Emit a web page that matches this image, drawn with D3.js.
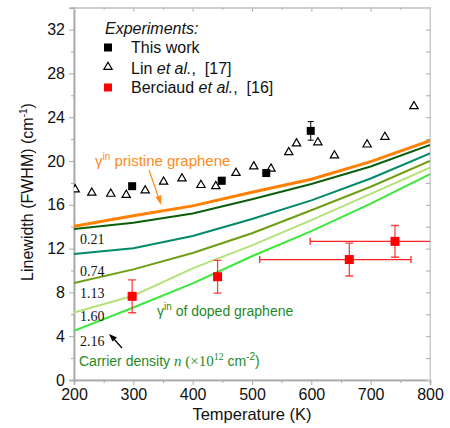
<!DOCTYPE html>
<html><head><meta charset="utf-8">
<script src="https://cdn.jsdelivr.net/npm/d3@7"></script>
<style>body{margin:0;background:#fff}svg{display:block}text{font-family:"Liberation Sans",Arial,sans-serif}</style>
</head><body>
<svg id="c" width="450" height="428"></svg>
<script>
const temps = [200,300,400,500,600,700,800];
const pristine = [14.04,15.0,15.9,17.14,18.33,19.94,21.85];
const n021 = [13.8,14.37,15.2,16.5,17.9,19.5,21.46];
const n074 = [11.5,12.03,13.15,14.7,16.4,18.4,20.7];
const n113 = [8.86,10.1,11.6,13.4,15.5,17.65,20.0];
const n160 = [6.15,7.7,10.2,12.3,14.6,17.0,19.4];
const n216 = [4.5,6.62,8.83,11.3,13.6,16.1,18.8];
const densityLabels = ["0.21","0.74","1.13","1.60","2.16"];
const thisWorkT = [298,449,524,599];
const thisWorkY = [17.7,18.2,18.9,22.75];
const thisWorkErr = [0,0.3,0,0.85];
const linT = [202,230,262,288,320,351,382,414,439,473,503,532,562,575,611,639,694,724,773];
const linY = [17.4,17.1,17.0,16.9,17.3,18.1,18.4,17.8,17.7,18.9,19.5,19.3,20.8,21.6,21.7,20.5,21.5,22.2,25.0];
const berT = [298,442,664,741];
const berY = [7.64,9.43,11.0,12.66];
const berYErr = [1.5,1.5,1.5,1.45];
const berTLow = [298,442,513,598];
const berTHigh = [298,442,768,884];
const xTicks = [200,300,400,500,600,700,800];
const yTicks = [0,4,8,12,16,20,24,28,32];

const svg = d3.select("#c");
const L=74, R=430, T=7.7, B=380;
const x = d3.scaleLinear().domain([200,800]).range([L,R]);
const y = d3.scaleLinear().domain([0,34]).range([B,T]);
const gray="#aaa";

svg.append("defs").append("clipPath").attr("id","clip").append("rect")
  .attr("x",L).attr("y",T).attr("width",R-L).attr("height",B-T);

svg.append("rect").attr("x",L).attr("y",T).attr("width",R-L).attr("height",B-T)
  .attr("fill","none").attr("stroke","#ccc").attr("stroke-width",1);

const axB = svg.append("g").attr("transform",`translate(0,${B})`)
  .call(d3.axisBottom(x).tickValues(xTicks).tickSize(5).tickPadding(4));
const axBm = svg.append("g").attr("transform",`translate(0,${B})`)
  .call(d3.axisBottom(x).tickValues(d3.range(250,800,100)).tickSize(3).tickFormat(""));
const axL = svg.append("g").attr("transform",`translate(${L},0)`)
  .call(d3.axisLeft(y).tickValues(yTicks).tickSize(5).tickPadding(4));
const axLm = svg.append("g").attr("transform",`translate(${L},0)`)
  .call(d3.axisLeft(y).tickValues(d3.range(2,34,4)).tickSize(3).tickFormat(""));
const axT = svg.append("g").attr("transform",`translate(0,${T})`)
  .call(d3.axisTop(x).tickValues(xTicks).tickSize(-4).tickFormat(""));
const axTm = svg.append("g").attr("transform",`translate(0,${T})`)
  .call(d3.axisTop(x).tickValues(d3.range(250,800,100)).tickSize(-2).tickFormat(""));
const axR = svg.append("g").attr("transform",`translate(${R},0)`)
  .call(d3.axisRight(y).tickValues(d3.range(2,34,2)).tickSize(-4).tickFormat(""));
[axB,axBm,axL,axLm,axT,axTm,axR].forEach(g=>{
  g.selectAll("path").attr("stroke",gray).attr("stroke-width",1.5);
  g.selectAll("line").attr("stroke",gray);
  g.selectAll("text").attr("fill","#111").style("font-size","16px").style("font-family","Liberation Sans,Arial,sans-serif");
});
[axT,axTm,axR].forEach(g=>g.select("path").attr("stroke","#ccc").attr("stroke-width",1));

svg.append("text").attr("x",252).attr("y",420).attr("text-anchor","middle")
  .style("font-size","16.5px").attr("fill","#111").text("Temperature (K)");
const yl = svg.append("text").attr("transform","translate(33,192) rotate(-90)")
  .attr("text-anchor","middle").style("font-size","16px").attr("fill","#111");
yl.append("tspan").text("Linewidth (FWHM) (cm");
yl.append("tspan").attr("dy",-6).style("font-size","10px").text("-1");
yl.append("tspan").attr("dy",6).text(")");

const plot = svg.append("g").attr("clip-path","url(#clip)");
const series = [
  {v:n216,c:"#3ae83a",w:2},
  {v:n160,c:"#b4e27a",w:2},
  {v:n113,c:"#6e9e12",w:2},
  {v:n074,c:"#008a6a",w:2},
  {v:n021,c:"#0b5e0b",w:2},
  {v:pristine,c:"#ff8000",w:3}
];
const line = d3.line().x((d,i)=>x(temps[i])).y(d=>y(d));
series.forEach(s=>plot.append("path").attr("d",line(s.v)).attr("fill","none")
  .attr("stroke",s.c).attr("stroke-width",s.w));

const tri = d3.symbol().type(d3.symbolTriangle).size(30);
plot.selectAll(".tri").data(linT).enter().append("path")
  .attr("d",tri).attr("transform",(d,i)=>`translate(${x(d)},${y(linY[i])})`)
  .attr("fill","#fff").attr("stroke","#000").attr("stroke-width",1.2);

thisWorkT.forEach((t,i)=>{
  if(thisWorkErr[i]>0){
    const e=thisWorkErr[i];
    plot.append("line").attr("x1",x(t)).attr("x2",x(t)).attr("y1",y(thisWorkY[i]-e)).attr("y2",y(thisWorkY[i]+e)).attr("stroke","#000");
    [-e,e].forEach(d=>plot.append("line").attr("x1",x(t)-3).attr("x2",x(t)+3).attr("y1",y(thisWorkY[i]+d)).attr("y2",y(thisWorkY[i]+d)).attr("stroke","#000"));
  }
  plot.append("rect").attr("x",x(t)-4).attr("y",y(thisWorkY[i])-4).attr("width",8).attr("height",8).attr("fill","#000");
});

berT.forEach((t,i)=>{
  const e=berYErr[i], cy=berY[i];
  const col="#f22";
  plot.append("line").attr("x1",x(t)).attr("x2",x(t)).attr("y1",y(cy-e)).attr("y2",y(cy+e)).attr("stroke",col).attr("stroke-width",1.3).attr("stroke-opacity",0.85);
  [-e,e].forEach(d=>plot.append("line").attr("x1",x(t)-4).attr("x2",x(t)+4).attr("y1",y(cy+d)).attr("y2",y(cy+d)).attr("stroke",col).attr("stroke-width",1.3).attr("stroke-opacity",0.85));
  if(berTHigh[i]>berTLow[i]){
    plot.append("line").attr("x1",x(berTLow[i])).attr("x2",x(berTHigh[i])).attr("y1",y(cy)).attr("y2",y(cy)).attr("stroke",col).attr("stroke-width",1.3);
    [berTLow[i],berTHigh[i]].forEach(d=>plot.append("line").attr("x1",x(d)).attr("x2",x(d)).attr("y1",y(cy)-3.5).attr("y2",y(cy)+3.5).attr("stroke",col).attr("stroke-width",1.3));
  }
  plot.append("rect").attr("x",x(t)-4.5).attr("y",y(cy)-4.5).attr("width",9).attr("height",9).attr("fill","#f00");
});

svg.append("text").attr("x",105).attr("y",34).style("font-size","16px").style("font-style","italic").attr("fill","#111").text("Experiments:");
svg.append("rect").attr("x",104).attr("y",43.5).attr("width",8).attr("height",8).attr("fill","#000");
svg.append("text").attr("x",131).attr("y",53).style("font-size","16px").attr("fill","#111").text("This work");
svg.append("path").attr("d",tri).attr("transform","translate(108,67)").attr("fill","#fff").attr("stroke","#000").attr("stroke-width",1.2);
const l2=svg.append("text").attr("x",131).attr("y",74).style("font-size","16px").attr("fill","#111");
l2.append("tspan").text("Lin ");l2.append("tspan").style("font-style","italic").text("et al.");l2.append("tspan").text(",\u00a0 [17]");
svg.append("rect").attr("x",104).attr("y",83.5).attr("width",8).attr("height",8).attr("fill","#f00");
const l3=svg.append("text").attr("x",131).attr("y",93).style("font-size","16px").attr("fill","#111");
l3.append("tspan").text("Berciaud ");l3.append("tspan").style("font-style","italic").text("et al.");l3.append("tspan").text(",\u00a0 [16]");

const orange="#ff8a1a", green="#1f8a1f";
const p1=svg.append("text").attr("x",95).attr("y",166).style("font-size","15px").attr("fill",orange);
p1.append("tspan").text("γ");p1.append("tspan").attr("dy",-6).style("font-size","10px").text("in");
p1.append("tspan").attr("dy",6).text(" pristine graphene");
svg.append("line").attr("x1",149).attr("y1",170).attr("x2",159).attr("y2",199).attr("stroke",orange).attr("stroke-width",1.2);
svg.append("path").attr("d","M161,205 L155.5,197 L161.5,195 Z").attr("fill",orange);

const p2=svg.append("text").attr("x",157).attr("y",316).style("font-size","14px").attr("fill",green);
p2.append("tspan").text("γ");p2.append("tspan").attr("dy",-6).style("font-size","10px").text("in");
p2.append("tspan").attr("dy",6).text(" of doped graphene");

const ly=[244,276,298,321,346];
densityLabels.forEach((t,i)=>svg.append("text").attr("x",80).attr("y",ly[i])
  .style("font-size","14px").style("font-family","Liberation Serif,Times New Roman,serif").attr("fill","#111").text(t));

const cd=svg.append("text").attr("x",79).attr("y",366).style("font-size","14px").attr("fill",green);
cd.append("tspan").text("Carrier density ");
cd.append("tspan").style("font-family","Liberation Serif,serif").style("font-style","italic").style("font-size","15px").text("n");
cd.append("tspan").style("font-family","Liberation Serif,serif").style("font-size","15px").text(" (×10");
cd.append("tspan").attr("dy",-6).style("font-family","Liberation Serif,serif").style("font-size","10px").text("12");
cd.append("tspan").attr("dy",6).text(" cm");
cd.append("tspan").attr("dy",-6).style("font-size","10px").text("-2");
cd.append("tspan").attr("dy",6).text(")");

svg.append("line").attr("x1",122).attr("y1",348).attr("x2",113).attr("y2",338).attr("stroke","#000").attr("stroke-width",1.2);
svg.append("path").attr("d","M109,334 L117,337.5 L112.5,341.5 Z").attr("fill","#000");
</script>
</body></html>
